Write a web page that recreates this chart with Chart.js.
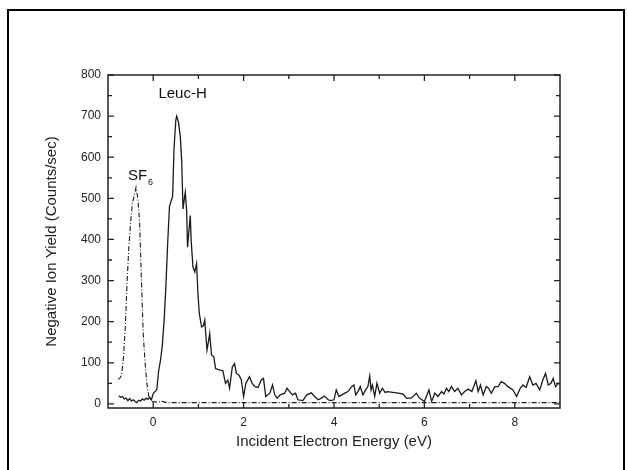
<!DOCTYPE html>
<html>
<head>
<meta charset="utf-8">
<script src="https://cdn.jsdelivr.net/npm/chart.js@4.4.0/dist/chart.umd.min.js"></script>
<style>
  body { margin: 0; background: #fff; }
  #wrap { position: relative; width: 628px; height: 470px; overflow: hidden; }
  #frame { position: absolute; left: 7px; top: 9px; width: 614px; height: 470px; border: 2px solid #000; }
  canvas { position: absolute; left: 0; top: 0; }
</style>
</head>
<body>
<div id="wrap">
  <div id="frame"></div>
  <canvas id="chart" width="628" height="470"></canvas>
</div>
<script>
// Leuc-H yield, solid line (energy in eV, counts/sec)
const leucX = [-0.76, -0.72, -0.68, -0.64, -0.60, -0.56, -0.52, -0.48, -0.44, -0.40, -0.36, -0.32, -0.28, -0.24, -0.20, -0.16, -0.12, -0.08, -0.04,
  0.00, 0.04, 0.08, 0.12, 0.16, 0.20, 0.24, 0.28, 0.32, 0.36, 0.40, 0.43, 0.46, 0.50, 0.52, 0.56, 0.60, 0.63, 0.66, 0.69, 0.71, 0.74, 0.76, 0.79,
  0.82, 0.84, 0.88, 0.92, 0.96, 0.99, 1.02, 1.07, 1.11, 1.14, 1.19, 1.22, 1.25, 1.29, 1.34, 1.38, 1.47, 1.54, 1.60, 1.65, 1.69, 1.75, 1.80, 1.84,
  1.90, 1.95, 2.00, 2.05, 2.13, 2.19, 2.25, 2.32, 2.39, 2.44, 2.49, 2.58, 2.64, 2.69, 2.74, 2.81, 2.91, 2.96, 3.02, 3.08, 3.15, 3.20, 3.31, 3.40,
  3.50, 3.57, 3.65, 3.72, 3.79, 3.87, 3.93, 4.00, 4.05, 4.11, 4.17, 4.24, 4.31, 4.39, 4.44, 4.48, 4.53, 4.58, 4.64, 4.70, 4.75, 4.79, 4.82, 4.85,
  4.90, 4.95, 5.01, 5.07, 5.13, 5.19, 5.30, 5.42, 5.53, 5.60, 5.71, 5.82, 5.89, 6.00, 6.10, 6.16, 6.23, 6.30, 6.38, 6.43, 6.49, 6.54, 6.60, 6.67,
  6.74, 6.82, 6.89, 6.97, 7.05, 7.14, 7.19, 7.24, 7.30, 7.37, 7.42, 7.48, 7.56, 7.63, 7.70, 7.77, 7.85, 7.96, 8.04, 8.12, 8.18, 8.25, 8.33, 8.40,
  8.47, 8.55, 8.62, 8.68, 8.74, 8.80, 8.85, 8.90, 8.96, 9.00];
const leucY = [20, 16, 18, 12, 14, 8, 13, 7, 10, 6, 3, 9, 7, 12, 9, 14, 11, 16, 10,
  25, 30, 35, 80, 105, 140, 200, 284, 390, 480, 495, 505, 620, 690, 700, 685, 650, 590, 474, 500, 515, 470, 381, 420,
  458, 397, 333, 321, 341, 268, 220, 187, 190, 204, 131, 150, 171, 119, 115, 86, 82, 81, 50, 58, 38, 90, 98, 74,
  70, 58, 18, 50, 66, 50, 42, 40, 58, 62, 18, 26, 46, 22, 14, 22, 26, 38, 30, 22, 26, 10, 8, 22,
  27, 18, 10, 14, 19, 10, 8, 10, 34, 18, 22, 26, 30, 42, 46, 22, 30, 42, 22, 34, 42, 68, 34, 46,
  18, 50, 26, 38, 28, 30, 28, 26, 24, 14, 14, 26, 14, 6, 34, 6, 26, 18, 30, 24, 38, 30, 42, 30,
  38, 22, 30, 36, 30, 56, 30, 46, 22, 42, 38, 26, 42, 42, 54, 50, 42, 34, 18, 38, 46, 40, 66, 46,
  50, 34, 58, 74, 46, 50, 62, 42, 50, 48];

// SF6 calibration peak, dashed line
const sf6X = [-0.78, -0.74, -0.70, -0.66, -0.62, -0.58, -0.54, -0.50, -0.46, -0.42, -0.38, -0.34, -0.30, -0.26, -0.22, -0.18, -0.14, -0.10, -0.06, -0.02,
  0.10, 0.20, 0.30, 1.0, 2.0, 3.0, 4.0, 5.0, 6.0, 7.0, 8.0, 9.0];
const sf6Y = [60, 62, 70, 110, 180, 290, 380, 440, 490, 505, 527, 500, 440, 300, 170, 100, 50, 20, 10, 6,
  4, 6, 3, 3, 3, 3, 3, 3, 3, 3, 3, 3];

// axis ticks
const xMajor = [0, 2, 4, 6, 8];
const xMinor = [1, 3, 5, 7];
const yMajor = [0, 100, 200, 300, 400, 500, 600, 700, 800];
const yMinor = [50, 150, 250, 350, 450, 550, 650, 750];

const FONT = 'Arial, "Liberation Sans", sans-serif';

function toPoints(xs, ys) {
  return xs.map((x, i) => ({ x: x, y: ys[i] }));
}

// draws the box with inward ticks on all four sides plus the peak labels
const frameTicks = {
  id: 'frameTicks',
  afterDraw(chart) {
    const ctx = chart.ctx;
    const a = chart.chartArea;
    const xs = chart.scales.x, ys = chart.scales.y;
    ctx.save();
    ctx.strokeStyle = '#222';
    ctx.lineWidth = 1.5;
    ctx.strokeRect(a.left, a.top, a.right - a.left, a.bottom - a.top);
    ctx.lineWidth = 1.3;
    ctx.beginPath();
    const tickX = (v, len) => {
      const p = xs.getPixelForValue(v);
      ctx.moveTo(p, a.bottom); ctx.lineTo(p, a.bottom - len);
      ctx.moveTo(p, a.top); ctx.lineTo(p, a.top + len);
    };
    const tickY = (v, len) => {
      const p = ys.getPixelForValue(v);
      ctx.moveTo(a.left, p); ctx.lineTo(a.left + len, p);
      ctx.moveTo(a.right, p); ctx.lineTo(a.right - len, p);
    };
    xMajor.forEach(v => tickX(v, 6));
    xMinor.forEach(v => tickX(v, 4));
    yMajor.forEach(v => tickY(v, 6));
    yMinor.forEach(v => tickY(v, 4));
    ctx.stroke();

    // peak labels
    ctx.fillStyle = '#111';
    ctx.textBaseline = 'middle';
    ctx.textAlign = 'center';
    ctx.font = '15px ' + FONT;
    ctx.fillText('Leuc-H', xs.getPixelForValue(0.65), ys.getPixelForValue(755));
    ctx.textAlign = 'left';
    const sx = xs.getPixelForValue(-0.56), sy = ys.getPixelForValue(555);
    ctx.fillText('SF', sx, sy);
    const w = ctx.measureText('SF').width;
    ctx.font = '9px ' + FONT;
    ctx.fillText('6', sx + w + 1, sy + 7);
    ctx.restore();
  }
};

new Chart(document.getElementById('chart'), {
  type: 'line',
  data: {
    datasets: [
      {
        label: 'Leuc-H',
        data: toPoints(leucX, leucY),
        borderColor: '#1a1a1a',
        borderWidth: 1.3,
        pointRadius: 0,
        tension: 0,
        fill: false
      },
      {
        label: 'SF6',
        data: toPoints(sf6X, sf6Y),
        borderColor: '#1a1a1a',
        borderWidth: 1.1,
        borderDash: [5, 2, 1, 2],
        pointRadius: 0,
        tension: 0,
        fill: false
      }
    ]
  },
  options: {
    responsive: false,
    animation: false,
    layout: { padding: { left: 0, top: 75, right: 68, bottom: 0 } },
    plugins: {
      legend: { display: false },
      tooltip: { enabled: false }
    },
    scales: {
      x: {
        type: 'linear',
        min: -1,
        max: 9,
        afterBuildTicks: scale => { scale.ticks = xMajor.map(v => ({ value: v })); },
        afterFit: scale => { scale.height = 62; },
        grid: { display: false, drawTicks: false },
        border: { display: false },
        ticks: { padding: 7, color: '#222', font: { family: FONT, size: 12 } },
        title: {
          display: true,
          text: 'Incident Electron Energy (eV)',
          color: '#222',
          font: { family: FONT, size: 15 },
          padding: { top: 0, bottom: 19 }
        }
      },
      y: {
        type: 'linear',
        min: -10,
        max: 800,
        afterBuildTicks: scale => { scale.ticks = yMajor.map(v => ({ value: v })); },
        afterFit: scale => { scale.width = 108; },
        grid: { display: false, drawTicks: false },
        border: { display: false },
        ticks: { padding: 7, color: '#222', font: { family: FONT, size: 12 } },
        title: {
          display: true,
          text: 'Negative Ion Yield (Counts/sec)',
          color: '#222',
          font: { family: FONT, size: 15 },
          padding: { top: 43, bottom: 0 }
        }
      }
    }
  },
  plugins: [frameTicks]
});
</script>
</body>
</html>
